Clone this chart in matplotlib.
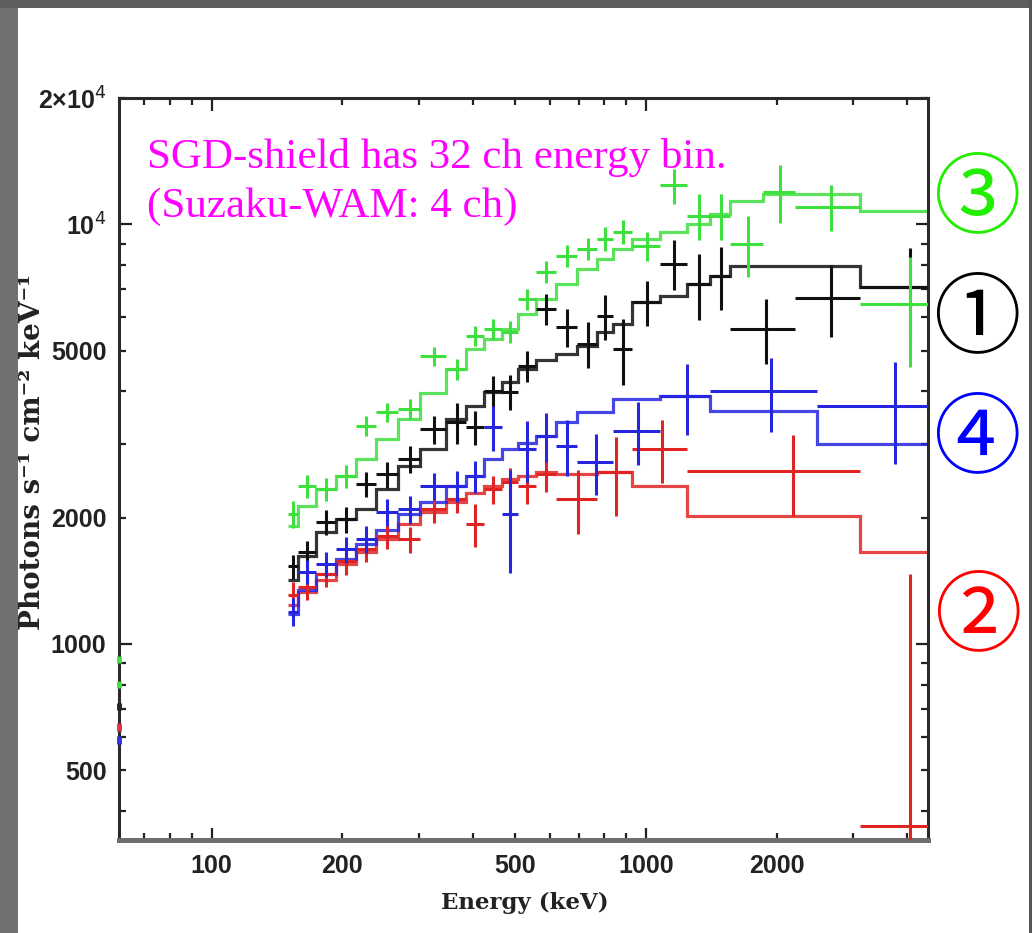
import numpy as np
import matplotlib
matplotlib.use("Agg")
import matplotlib.pyplot as plt
from matplotlib.patches import Rectangle

# ---------------- data (keV bins, photons s^-1 cm^-2 keV^-1) ----------------
base_edges = [150, 158, 174, 193, 215, 239, 269, 302, 347, 386, 424, 467, 508,
              559, 621, 695, 772, 841, 930, 1079, 1245, 1406, 1564, 2208, 3118, 5000]

# (1) black
black_edges = base_edges
black_data = [1530, 1652, 1950, 1982, 2403, 2538, 2756, 3251, 3379, 3287, 4007, 3985,
              4598, 6290, 5697, 5188, 6052, 5047, 6537, 8055, 7218, 7542, 5634, 6683, 7100]
black_err = [100, 110, 130, 140, 160, 180, 200, 250, 380, 300, 350, 380,
             400, 550, 600, 650, 750, 900, 800, 1100, 1300, 1300, 1000, 1300, 1700]
black_model = [1424, 1616, 1845, 1982, 2094, 2338, 2652, 2912, 3435, 3689, 3985, 4210,
               4523, 4740, 4911, 5131, 5542, 5780, 6537, 6757, 7218, 7542, 7967, 7967, 7100]

# (2) red
red_edges = [150, 158, 174, 193, 215, 239, 269, 302, 347, 386, 424, 467, 508, 559,
             621, 772, 930, 1245, 3118, 5000]
red_data = [1311, 1370, 1464, 1573, 1680, 1805, 1776, 2094, 2213, 1928, 2338, 2430,
            2377, 2538, 2213, 2566, 2912, 2580, 368]
red_err = [90, 95, 100, 110, 115, 120, 125, 150, 160, 230, 180, 200,
           220, 240, 380, 550, 500, 560, 1100]
red_model = [1241, 1333, 1424, 1550, 1652, 1776, 1928, 2060, 2176, 2290, 2377, 2470,
             2511, 2566, 2538, 2566, 2377, 2015, 1652]

# (3) green
green_edges = [150, 158, 174, 193, 215, 239, 269, 302, 347, 386, 424, 467, 508, 559,
               621, 695, 772, 841, 930, 1079, 1245, 1406, 1564, 1863, 2208, 3118, 5000]
green_data = [2037, 2377, 2338, 2511, 3305, 3568, 3628, 4857, 4523, 5421, 5634, 5542,
              6645, 7709, 8418, 8750, 9245, 9607, 8895, 12375, 10490, 10490, 8993,
              11970, 11020, 6465]
green_err = [150, 150, 150, 160, 180, 190, 200, 250, 260, 300, 320, 330,
             380, 450, 500, 550, 600, 650, 700, 1200, 1300, 1300, 1500, 1900, 1400, 1900]
green_model = [1907, 2129, 2338, 2511, 2756, 3077, 3435, 3963, 4523, 5047, 5333, 5634,
               6100, 6645, 7218, 7830, 8279, 8750, 9245, 9607, 10040, 10600, 11350,
               11840, 11840, 10780]

# (4) blue
blue_edges = [150, 158, 174, 193, 215, 239, 269, 302, 347, 386, 424, 467, 508, 559,
              621, 695, 841, 1079, 1406, 2481, 5000]
blue_data = [1194, 1488, 1550, 1680, 1776, 2060, 2094, 2377, 2377, 2511, 3287, 2037,
             2912, 3128, 2960, 2711, 3216, 3898, 4007, 3689]
blue_err = [90, 100, 110, 120, 130, 150, 160, 180, 200, 220, 400, 560,
            480, 420, 450, 450, 550, 750, 800, 1000]
blue_model = [1178, 1345, 1464, 1590, 1727, 1870, 2037, 2176, 2377, 2511, 2756, 2912,
              3020, 3128, 3379, 3568, 3835, 3898, 3589, 2993]

# marks sitting on the left frame edge
edge_mark_values = [917, 800, 709, 634, 590]
edge_mark_colors = ["#44dd44", "#44dd44", "#222222", "#dd3344", "#3333dd"]

x_major = [100, 1000]
x_major_labels = ["100", "1000"]
x_minor = [70, 80, 90, 200, 300, 400, 500, 600, 700, 800, 900, 2000, 3000, 4000]
x_minor_labels = ["", "", "", "200", "", "", "500", "", "", "", "", "2000", "", ""]
y_major = [1000, 10000]
y_major_labels = ["1000", "10$^4$"]
y_minor = [400, 500, 600, 700, 800, 900, 2000, 3000, 4000, 5000, 6000, 7000, 8000,
           9000, 20000]
y_minor_labels = ["", "500", "", "", "", "", "2000", "", "", "5000", "", "", "", "",
                  "2\u00d710$^4$"]

series_colors = ["#111111", "#e02424", "#3ee03e", "#2626e0"]
circled = ["\u2462", "\u2460", "\u2463", "\u2461"]
circled_colors = ["#22ee00", "#000000", "#0000ff", "#ff0000"]
circled_pos = [(977, 200), (977, 320), (977, 440), (978, 618)]

# ---------------- figure ----------------
W, H = 1032, 933
fig = plt.figure(figsize=(W / 100, H / 100), dpi=100)
fig.patch.set_facecolor("white")

def px(x, y):
    return x / W, 1 - y / H

# slide frame
fig.patches.append(Rectangle((0, 0), 18 / W, 1, transform=fig.transFigure,
                             facecolor="#707070", edgecolor="none", zorder=0))
fig.patches.append(Rectangle((0, 1 - 8 / H), 1, 8 / H, transform=fig.transFigure,
                             facecolor="#5e5e5e", edgecolor="none", zorder=0))
fig.patches.append(Rectangle((1 - 3 / W, 0), 3 / W, 1, transform=fig.transFigure,
                             facecolor="#555555", edgecolor="none", zorder=0))

l, r, t, b = 119, 928, 98, 840
ax = fig.add_axes([l / W, 1 - b / H, (r - l) / W, (b - t) / H])
ax.set_xscale("log")
ax.set_yscale("log")
ax.set_xlim(61.2, 4460)
ax.set_ylim(341, 20000)


def draw(edges, data, err, model, color):
    e = np.asarray(edges, float)
    lo, hi = e[:-1], e[1:]
    xc = (lo + hi) / 2
    d = np.asarray(data, float)
    er = np.asarray(err, float)
    ax.stairs(model, e, color=color, lw=2.3, baseline=None, alpha=0.85, zorder=2)
    ax.errorbar(xc, d, xerr=[xc - lo, hi - xc],
                yerr=[np.minimum(er, d * 0.999), er],
                fmt="none", ecolor=color, elinewidth=2.2, capsize=0, zorder=3)


draw(black_edges, black_data, black_err, black_model, series_colors[0])
draw(red_edges, red_data, red_err, red_model, series_colors[1])
draw(green_edges, green_data, green_err, green_model, series_colors[2])
draw(blue_edges, blue_data, blue_err, blue_model, series_colors[3])

for v, c in zip(edge_mark_values, edge_mark_colors):
    ax.plot([61.2, 61.2], [v / 1.02, v * 1.02], color=c, lw=3.5, clip_on=False,
            solid_capstyle="butt", zorder=5)

# ticks
ax.set_xticks(x_major, x_major_labels)
ax.set_xticks(x_minor, x_minor_labels, minor=True)
ax.set_yticks(y_major, y_major_labels)
ax.set_yticks(y_minor, y_minor_labels, minor=True)
for lab in ax.get_xticklabels(which="both") + ax.get_yticklabels(which="both"):
    lab.set_fontfamily(["Liberation Sans", "DejaVu Sans"])
    lab.set_fontweight("bold")
    lab.set_fontsize(18)
    lab.set_color("#222222")
ax.tick_params(which="both", direction="in", top=True, right=True, colors="#222222")
ax.tick_params(which="major", length=9, width=1.6)
ax.tick_params(which="minor", length=5, width=1.6)
ax.tick_params(axis="x", which="both", pad=10)
ax.tick_params(axis="y", which="both", pad=9)

for side in ["left", "top", "right"]:
    ax.spines[side].set_color("#2a2a2a")
    ax.spines[side].set_linewidth(2.2)
ax.spines["bottom"].set_color("#6e6e6e")
ax.spines["bottom"].set_linewidth(3.6)

# axis labels
fig.text(*px(525, 903), "Energy (keV)", ha="center", va="center",
         family="DejaVu Serif", weight="bold", size=16.5, color="#222222")
fig.text(*px(33, 452), "Photons s\u207b\u00b9 cm\u207b\u00b2 keV\u207b\u00b9",
         ha="center", va="center", rotation=90,
         family="DejaVu Serif", weight="bold", size=20, color="#222222")

# annotation
fig.text(*px(147, 168), "SGD-shield has 32 ch energy bin.", ha="left", va="baseline",
         family="Liberation Serif", size=31, color="#ff00ff")
fig.text(*px(147, 217), "(Suzaku-WAM: 4 ch)", ha="left", va="baseline",
         family="Liberation Serif", size=31, color="#ff00ff")

for s, c, (x, y) in zip(circled, circled_colors, circled_pos):
    fig.text(*px(x, y), s, ha="center", va="center", color=c, size=63,
             family=["Noto Sans CJK JP", "DejaVu Sans"])

fig.savefig("out.png", dpi=100, facecolor=fig.get_facecolor())
